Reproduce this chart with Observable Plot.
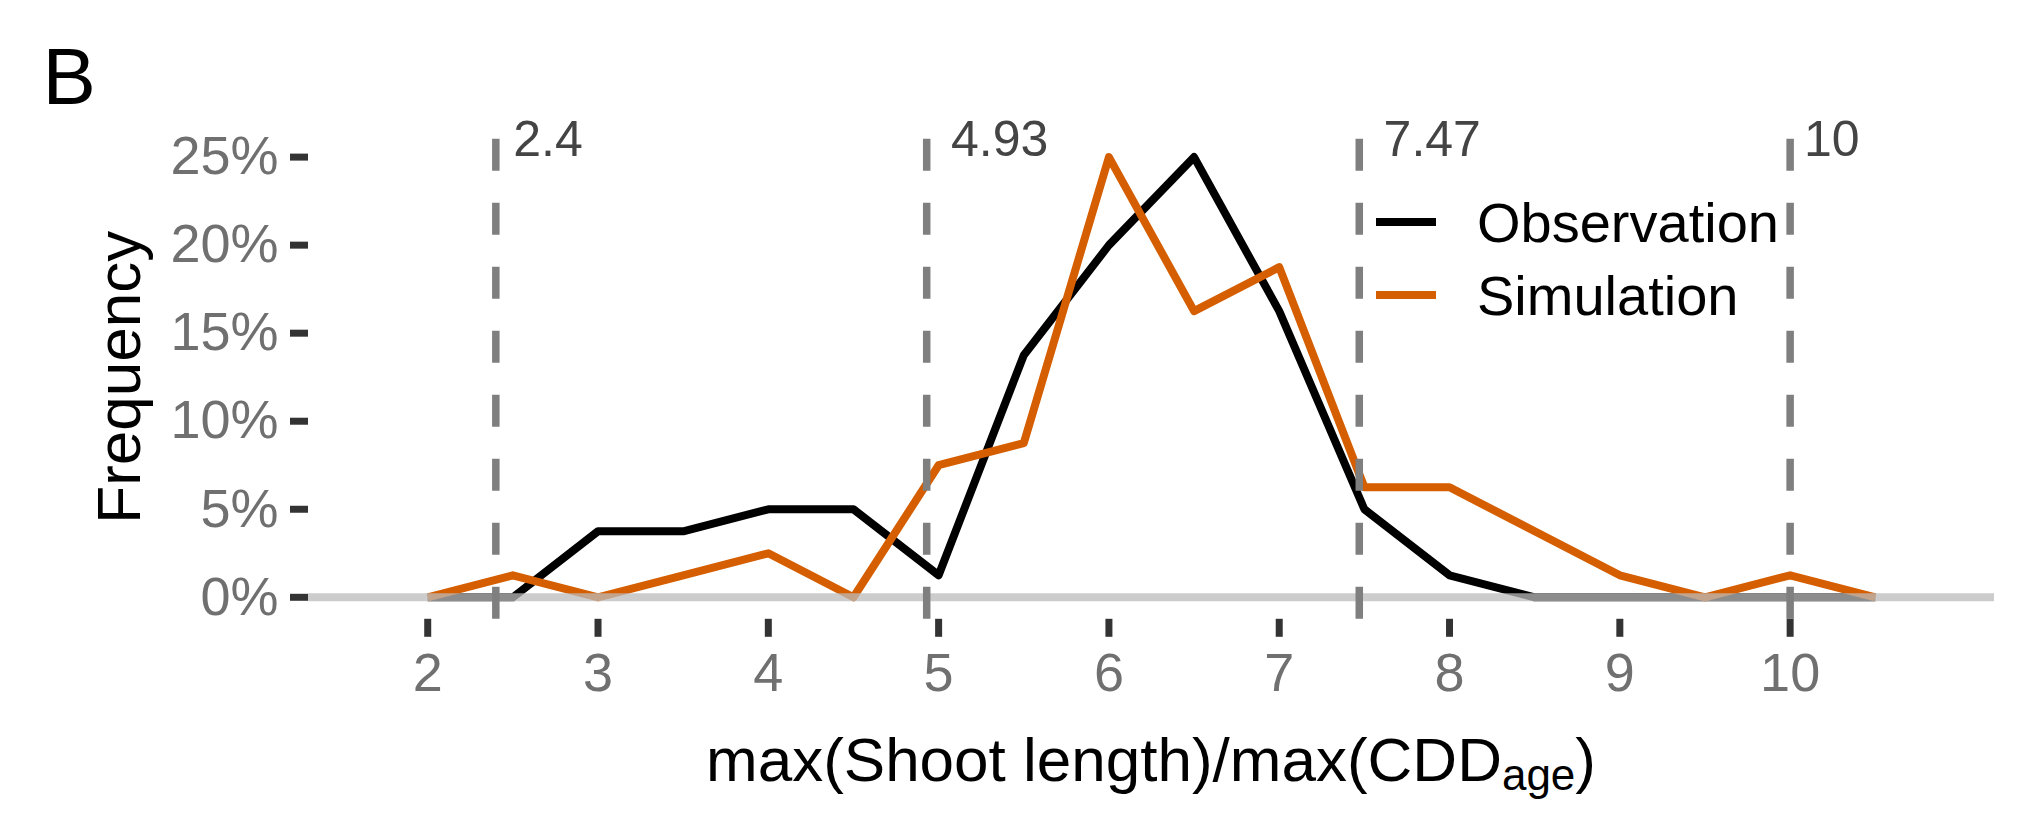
<!DOCTYPE html>
<html>
<head>
<meta charset="utf-8">
<script src="https://cdn.jsdelivr.net/npm/d3@7"></script>
<script src="https://cdn.jsdelivr.net/npm/@observablehq/plot@0.6"></script>
<style>
html, body { margin: 0; padding: 0; background: #fff; }
#wrap { position: relative; width: 2030px; height: 836px; overflow: hidden; }
#legend { position: absolute; left: 1376px; top: 185.5px; }
.lg-swatch { height: 73px !important; padding: 0 !important; margin: 0 !important; }
.lg-swatch > svg { margin-right: 41px !important; }
</style>
</head>
<body>
<div id="wrap"></div>
<script>
// ---- data ----
const bins = [2, 2.5, 3, 3.5, 4, 4.5, 5, 5.5, 6, 6.5, 7, 7.5, 8, 8.5, 9, 9.5, 10, 10.5];
const observation = [0, 0, 3.75, 3.75, 5, 5, 1.25, 13.75, 20, 25, 16.25, 5, 1.25, 0, 0, 0, 0, 0];
const simulation  = [0, 1.25, 0, 1.25, 2.5, 0, 7.5, 8.75, 25, 16.25, 18.75, 6.25, 6.25, 3.75, 1.25, 0, 1.25, 0];
const series = ["Observation", "Simulation"];
const colors = ["#000000", "#D55E00"];
const vlines = [2.4, 4.93, 7.47, 10];
const xTicks = [2, 3, 4, 5, 6, 7, 8, 9, 10];
const yTicks = [0, 5, 10, 15, 20, 25];
const xDomain = [1.3, 11.2];
const yDomain = [-1.25, 26.25];

const FONT = "'Liberation Sans', Arial, Helvetica, sans-serif";

const rows = bins.flatMap((b, i) => [
  {x: b, y: observation[i], s: series[0]},
  {x: b, y: simulation[i], s: series[1]}
]);

// text width for hjust-like offsets of the vline labels
const ctx = document.createElement("canvas").getContext("2d");
ctx.font = "50px 'Liberation Sans'";
const labelMarks = vlines.map(v => Plot.text([v], {
  x: d => d, y: 25, text: d => String(d),
  textAnchor: "start", lineAnchor: "middle",
  dx: 0.25 * ctx.measureText(String(v)).width, dy: -17,
  fontSize: 50, fill: "#444444"
}));

const chart = Plot.plot({
  width: 2030, height: 836,
  marginLeft: 308, marginRight: 36, marginTop: 134.6, marginBottom: 217.2,
  x: {domain: xDomain},
  y: {domain: yDomain},
  color: {domain: series, range: colors},
  style: {fontFamily: FONT, background: "#ffffff", overflow: "visible"},
  marks: [
    Plot.line(rows, {x: "x", y: "y", z: "s", stroke: "s", strokeWidth: 8, strokeLinecap: "butt", strokeLinejoin: "round"}),
    Plot.ruleY([0], {stroke: "#bbbbbb", strokeOpacity: 0.75, strokeWidth: 8}),
    Plot.ruleX(vlines, {x: d => d, y1: yDomain[0], y2: yDomain[1], stroke: "#7f7f7f", strokeWidth: 7.5, strokeDasharray: "32,32"}),
    ...labelMarks,
    Plot.axisX({ticks: xTicks, tickSize: 18, tickPadding: 15, fontSize: 54, stroke: "#333333", fill: "#707070", strokeWidth: 7, label: null}),
    Plot.axisY({ticks: yTicks, tickSize: 18, tickPadding: 12, fontSize: 54, tickFormat: d => d + "%", stroke: "#333333", fill: "#707070", strokeWidth: 7, label: null}),
    Plot.text(["Frequency"], {frameAnchor: "left", textAnchor: "middle", lineAnchor: "middle", rotate: -90, dx: -188, fontSize: 62, fill: "#000000"}),
    Plot.text(["B"], {frameAnchor: "top-left", textAnchor: "start", lineAnchor: "middle", dx: -266, dy: -57, fontSize: 80, fill: "#000000"})
  ]
});

// x-axis title with subscript
const svg = d3.select(chart);
const t = svg.append("text")
  .attr("x", (308 + 1994) / 2).attr("y", 781)
  .attr("text-anchor", "middle")
  .attr("font-family", FONT).attr("font-size", 62).attr("fill", "#000");
t.append("tspan").text("max(Shoot length)/max(CDD");
t.append("tspan").attr("font-size", 44).attr("dy", 9).text("age");
t.append("tspan").attr("dy", -9).text(")");

const wrap = document.getElementById("wrap");
wrap.appendChild(chart);

const legend = Plot.legend({
  color: {domain: series, range: colors},
  legend: "swatches", columns: 1, swatchWidth: 60, swatchHeight: 8,
  className: "lg",
  style: {fontFamily: FONT, fontSize: "56px", color: "#000000"}
});
legend.id = "legend";
wrap.appendChild(legend);
</script>
</body>
</html>
